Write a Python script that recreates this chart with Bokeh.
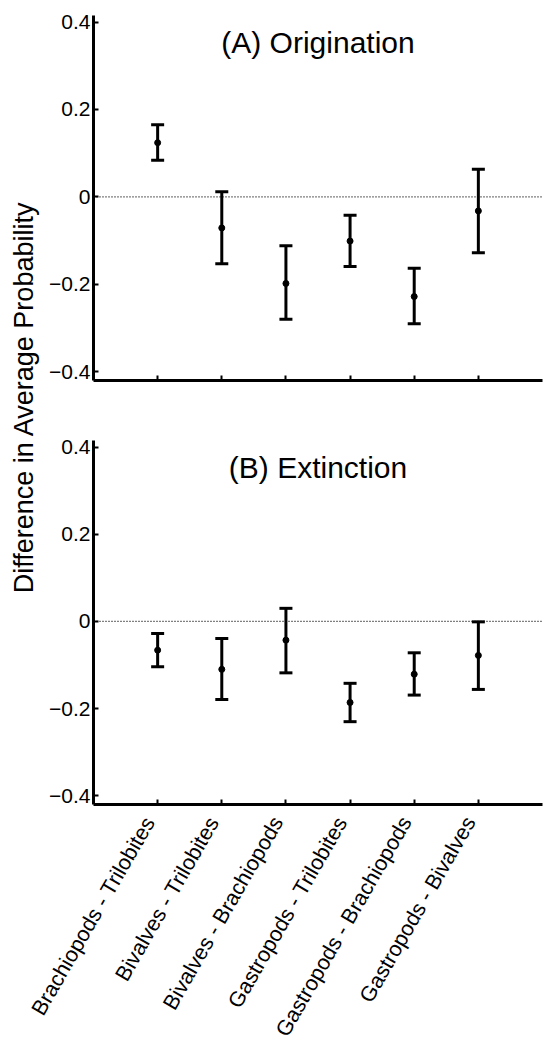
import math
from bokeh.plotting import figure
from bokeh.models import (ColumnDataSource, Whisker, TeeHead, Span, Label, Range1d,
                          FixedTicker, CustomJSTickFormatter)
from bokeh.core.properties import value
from bokeh.layouts import row, column
from bokeh.embed import file_html
from bokeh.resources import INLINE

# ---------------- data ----------------
categories = ["Brachiopods - Trilobites", "Bivalves - Trilobites", "Bivalves - Brachiopods",
              "Gastropods - Trilobites", "Gastropods - Brachiopods", "Gastropods - Bivalves"]
positions = [1, 2, 3, 4, 5, 6]

orig_mean = [0.124, -0.071, -0.198, -0.101, -0.228, -0.032]
orig_upper = [0.165, 0.012, -0.112, -0.042, -0.163, 0.063]
orig_lower = [0.084, -0.153, -0.280, -0.159, -0.290, -0.128]

ext_mean = [-0.066, -0.110, -0.043, -0.186, -0.121, -0.078]
ext_upper = [-0.028, -0.039, 0.030, -0.142, -0.072, -0.001]
ext_lower = [-0.104, -0.179, -0.118, -0.230, -0.169, -0.156]

y_ticks = [-0.4, -0.2, 0, 0.2, 0.4]
titles = ["(A) Origination", "(B) Extinction"]
y_label = "Difference in Average Probability"

# ---------------- layout constants ----------------
FONT = "Liberation Sans"
X_MAX = 7
PANEL_W = 500
BORDER_L = 49
BORDER_R = 2
FRAME_W = PANEL_W - BORDER_L - BORDER_R
H_A = 408
H_B = 406
LABEL_W = 44
CAT_H = 252
Y_MIN, Y_MAX = -0.42, 0.415

y_fmt = CustomJSTickFormatter(code="""
if (Math.abs(tick) < 1e-9) return '0';
const s = Math.abs(tick).toFixed(1);
return tick < 0 ? '\\u2212' + s : s;
""")


def make_panel(mean, upper, lower, title, height, top, bottom):
    p = figure(width=PANEL_W, height=height, x_range=Range1d(0, X_MAX),
               y_range=Range1d(Y_MIN, Y_MAX), output_backend="svg",
               toolbar_location=None, min_border_left=BORDER_L,
               min_border_right=BORDER_R, min_border_top=top,
               min_border_bottom=bottom)
    p.outline_line_color = None
    p.xgrid.visible = False
    p.ygrid.visible = False

    for ax in (p.xaxis[0], p.yaxis[0]):
        ax.axis_line_width = 3
        ax.axis_line_color = "black"
        ax.major_tick_in = 5
        ax.major_tick_out = 0
        ax.major_tick_line_width = 2
        ax.major_tick_line_color = "black"
        ax.minor_tick_line_color = None
        ax.major_label_text_font = FONT
        ax.major_label_text_color = "black"

    p.yaxis.ticker = FixedTicker(ticks=y_ticks)
    p.yaxis.formatter = y_fmt
    p.yaxis.major_label_text_font_size = "21px"
    p.yaxis.major_label_standoff = 3

    p.xaxis.ticker = FixedTicker(ticks=positions)
    p.xaxis.formatter = CustomJSTickFormatter(code="return '';")
    p.xaxis.major_label_text_font_size = "21px"
    p.xaxis.major_label_standoff = 0

    p.add_layout(Span(location=0, dimension="width", line_color="black",
                      line_dash="1 2", line_width=1.2))

    src = ColumnDataSource(dict(x=positions, mean=mean, upper=upper, lower=lower))
    w = Whisker(source=src, base="x", upper="upper", lower="lower",
                line_width=3, line_color="black",
                upper_head=TeeHead(size=13, line_width=3, line_color="black"),
                lower_head=TeeHead(size=13, line_width=3, line_color="black"))
    p.add_layout(w)
    p.scatter("x", "mean", source=src, size=6, color="black")

    p.add_layout(Label(x=X_MAX / 2, y=0.354, text=title, text_align="center",
                       text_baseline="middle", text_font_size="30px",
                       text_font=FONT, text_color="black"))
    return p


pA = make_panel(orig_mean, orig_upper, orig_lower, titles[0], H_A, 15, 28)
pB = make_panel(ext_mean, ext_upper, ext_lower, titles[1], H_B, 32, 10)

# shared y-axis label
lf = figure(width=LABEL_W, height=H_A + H_B, x_range=Range1d(0, LABEL_W),
            y_range=Range1d(0, H_A + H_B), output_backend="svg", toolbar_location=None,
            x_axis_location=None, y_axis_location=None, min_border=0)
lf.outline_line_color = None
lf.xgrid.visible = False
lf.ygrid.visible = False
lf.add_layout(Label(x=23, y=H_A + H_B - 396.7, text=y_label, angle=math.pi / 2,
                    text_align="center", text_baseline="middle",
                    text_font_size="27px", text_font=FONT, text_color="black"))

# category labels under panel B, on the same x scale as the panels
px_per_unit = FRAME_W / X_MAX
cat_x_range = Range1d(-(LABEL_W + BORDER_L) / px_per_unit, X_MAX + BORDER_R / px_per_unit)
cf = figure(width=LABEL_W + PANEL_W, height=CAT_H, x_range=cat_x_range,
            y_range=Range1d(-CAT_H, 0), output_backend="svg", toolbar_location=None,
            x_axis_location=None, y_axis_location=None, min_border=0)
cf.outline_line_color = None
cf.xgrid.visible = False
cf.ygrid.visible = False
anchor_y = -4
csrc = ColumnDataSource(dict(x=positions, y=[anchor_y] * len(positions), text=categories))
cf.text(x="x", y="y", text="text", source=csrc, angle=math.pi / 3, x_offset=-8,
        text_align="right", text_baseline="middle", text_font=value(FONT),
        text_font_size="21.5px", text_color="black")

layout = column(row(lf, column(pA, pB)), cf)

open("out.html", "w").write(file_html(layout, INLINE))
